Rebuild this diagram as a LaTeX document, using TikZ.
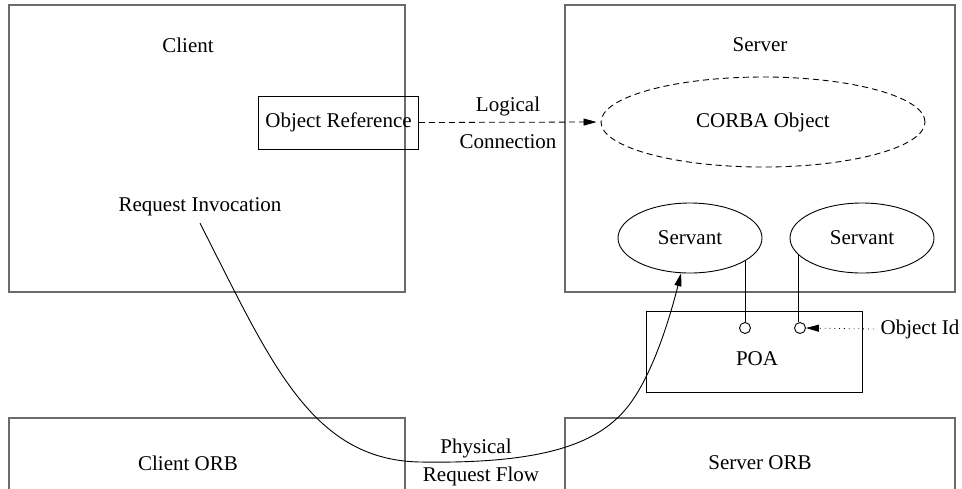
\documentclass[tikz,border=0pt]{standalone}
\usepackage{fontspec}
\setmainfont{Liberation Serif}
\usetikzlibrary{arrows.meta, positioning, shapes.geometric}
\newcommand{\portlink}[3]
{
	\draw (#1.#2) -- (#1.#2 |- #3.north)
}

\begin{document}
\begin{tikzpicture}[x=0.5pt, y=-0.5pt,
			font=\fontsize{10.5}{12}\selectfont,
			part/.style={draw=black!58, line width=0.65pt},
			box/.style={draw=black, line width=0.45pt},
			obj/.append style={shape=ellipse,
				draw=black,
				line width=0.45pt,
				inner sep=0},
			port/.style={shape=circle, draw=black, line width=0.45pt,
				fill=white, minimum size=5.5pt, inner sep=0},
			tip/.style={-{Triangle[length=6.5pt, width=3.5pt]}}]

			\useasboundingbox (0,0) rectangle (962,488);

			\node[part, minimum width=198pt, minimum height=143.5pt] at (207, 148.5) (client){};
			\node[part, minimum width=195pt, minimum height=143.5pt] at (760, 148.5) (server){};
			\node[part, minimum width=198pt, minimum height=50pt] at (207, 468) (clientorb){};
			\node[part, minimum width=195pt, minimum height=50pt] at (760, 468) (serverorb){};

			\node at (188, 45) (clientlbl){Client};
			\node at (760, 45) (serverlbl){Server};
			\node at (188, 463) (clientorblbl){Client ORB};
			\node at (760, 463) (serverorblbl){Server ORB};

			\node[box, minimum width=78.5pt, minimum height=26.5pt] at (338.5, 122.5) (objref){Object Reference};
			\node[obj, dashed, dash pattern=on 3pt off 2pt, minimum width=162pt, minimum height=45pt] at (763, 122) (corba){CORBA Object};
			\node at (508, 106) (logical){Logical};
			\node at (508, 142) (connection){Connection};

			\node at (200, 207) (reqinv){Request Invocation};

			\node[obj, minimum width=72pt, minimum height=35pt] at (690, 238) (servantA){Servant};
			\node[obj, minimum width=72pt, minimum height=35pt] at (862, 238) (servantB){Servant};

			\node[box, minimum width=108pt, minimum height=40.5pt] at (754, 351.5) (poa){};
			\node at (757, 359) (poalbl){POA};
			\node[port] at (745, 328) (portA){};
			\node[port] at (800, 328) (portB){};
			\node at (920, 329) (objid){Object Id};

			\portlink{servantA}{-22.3}{portA};
			\portlink{servantB}{-165}{portB};

			\draw[tip, dashed, dash pattern=on 3pt off 2pt, shorten >=2pt] (objref.east) -- (corba.west);
			\draw[tip, dotted] (objid.west) -- (portB.east);

			\node at (476, 448) (physical){Physical};
			\node at (481, 476) (reqflow){Request Flow};
			\coordinate (low) at (420, 462);
			\coordinate (rise) at (625, 410);
			\draw[tip, line width=0.45pt] (reqinv.south) .. controls (270, 360) and (310, 460) .. (low)
				.. controls (540, 464) and (595, 445) .. (rise)
				.. controls (650, 381) and (668, 325) .. (servantA);
		\end{tikzpicture}
\end{document}
